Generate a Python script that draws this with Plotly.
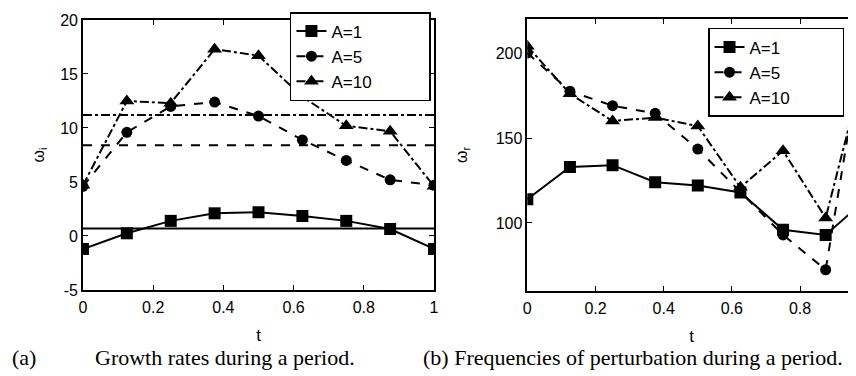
import plotly.graph_objects as go

t = [0, 0.125, 0.25, 0.375, 0.5, 0.625, 0.75, 0.875, 1.0]
series_names = ["A=1", "A=5", "A=10"]

# (a) growth rates
growth_A1 = [-1.2, 0.25, 1.4, 2.1, 2.2, 1.85, 1.4, 0.65, -1.2]
growth_A5 = [4.6, 9.6, 12.0, 12.4, 11.1, 8.9, 7.0, 5.2, 4.7]
growth_A10 = [4.7, 12.5, 12.3, 17.3, 16.7, 12.9, 10.2, 9.7, 4.6]
growth_means = [0.7, 8.4, 11.2]

# (b) frequencies
freq_A1 = [114, 133, 134, 124, 122, 118, 96, 93, 115]
freq_A5 = [200, 177.5, 169, 164.5, 143.5, 118, 93, 72.5, 224]
freq_A10 = [204, 176, 160, 162, 157, 121, 142.5, 103, 201]

x_ticks_a = [0, 0.2, 0.4, 0.6, 0.8, 1]
x_ticks_b = [0, 0.2, 0.4, 0.6, 0.8, 1]
y_ticks_a = [-5, 0, 5, 10, 15, 20]
y_ticks_b = [100, 150, 200]

dashes = ["solid", "dash", "dashdot"]
symbols = ["square", "circle", "triangle-up"]
msizes = [12, 11, 13]
pad1 = "\u00a0" * 11
pad2 = "\u00a0" * 10

fig = go.Figure()

for vals, name, d, s, ms in zip([growth_A1, growth_A5, growth_A10], series_names, dashes, symbols, msizes):
    fig.add_trace(go.Scatter(x=t, y=vals, name=name + pad1, mode="lines+markers",
                             line=dict(color="black", width=2, dash=d),
                             marker=dict(symbol=s, size=ms, color="black"),
                             xaxis="x", yaxis="y", legend="legend"))
for m, d in zip(growth_means, dashes):
    fig.add_trace(go.Scatter(x=[t[0], t[-1]], y=[m, m], mode="lines", showlegend=False,
                             line=dict(color="black", width=2, dash=d),
                             xaxis="x", yaxis="y", hoverinfo="skip"))

for vals, name, d, s, ms in zip([freq_A1, freq_A5, freq_A10], series_names, dashes, symbols, msizes):
    fig.add_trace(go.Scatter(x=t, y=vals, name=name + pad2, mode="lines+markers",
                             line=dict(color="black", width=2, dash=d),
                             marker=dict(symbol=s, size=ms, color="black"),
                             xaxis="x2", yaxis="y2", legend="legend2"))

tickfont = dict(family="Liberation Sans, Arial", size=16, color="black")
axis_common = dict(showline=True, linecolor="black", linewidth=1.5, ticks="inside",
                   ticklen=5, tickcolor="black", showgrid=False, zeroline=False,
                   tickfont=tickfont, automargin=False)

fig.update_layout(
    width=848, height=368,
    margin=dict(l=0, r=0, t=0, b=0, pad=0, autoexpand=False),
    paper_bgcolor="white", plot_bgcolor="white",
    font=dict(family="Liberation Sans, Arial", color="black"),
    xaxis=dict(domain=[0.0884, 0.5024], range=[0, 1], tickvals=x_ticks_a,
               ticktext=[f"{v:g}" for v in x_ticks_a], mirror="ticks", ticklabelstandoff=2,
               title=dict(text="t", font=dict(size=17), standoff=14), **axis_common),
    yaxis=dict(domain=[0.2337, 0.9674], range=[-5, 20], tickvals=y_ticks_a, mirror="ticks",
               ticktext=[f"{v:g}" for v in y_ticks_a],
               title=dict(text="ω<sub>i</sub>", font=dict(size=16), standoff=12), **axis_common),
    xaxis2=dict(domain=[0.6124, 1.0], range=[0, 0.964], tickvals=x_ticks_b,
                ticktext=[f"{v:g}" for v in x_ticks_b], mirror="ticks", anchor="y2",
                ticklabelstandoff=2,
                title=dict(text="t", font=dict(size=17), standoff=14), **axis_common),
    yaxis2=dict(domain=[0.2310, 0.9701], range=[60, 220], tickvals=y_ticks_b, mirror=False,
                anchor="x2",
                title=dict(text="ω<sub>r</sub>", font=dict(size=16), standoff=24), **axis_common),
    legend=dict(x=0.3325, y=0.989, xanchor="left", yanchor="top", bgcolor="white",
                bordercolor="black", borderwidth=1.5,
                font=dict(family="Liberation Sans, Arial", size=17, color="black")),
    legend2=dict(x=0.8255, y=0.9457, xanchor="left", yanchor="top", bgcolor="white",
                 bordercolor="black", borderwidth=1.5,
                 font=dict(family="Liberation Sans, Arial", size=17, color="black")),
    showlegend=True,
)

cap_font = dict(family="Liberation Serif, Times New Roman", size=22, color="black")
fig.add_annotation(text="(a)", x=0.0189, y=0.049, xref="paper", yref="paper",
                   showarrow=False, font=cap_font, xanchor="center", yanchor="middle")
fig.add_annotation(text="Growth rates during a period.", x=0.2559, y=0.049, xref="paper", yref="paper",
                   showarrow=False, font=cap_font, xanchor="center", yanchor="middle")
fig.add_annotation(text="(b) Frequencies of perturbation during a period.", x=0.737, y=0.049,
                   xref="paper", yref="paper", showarrow=False, font=cap_font,
                   xanchor="center", yanchor="middle")

fig.write_html("out.html")
